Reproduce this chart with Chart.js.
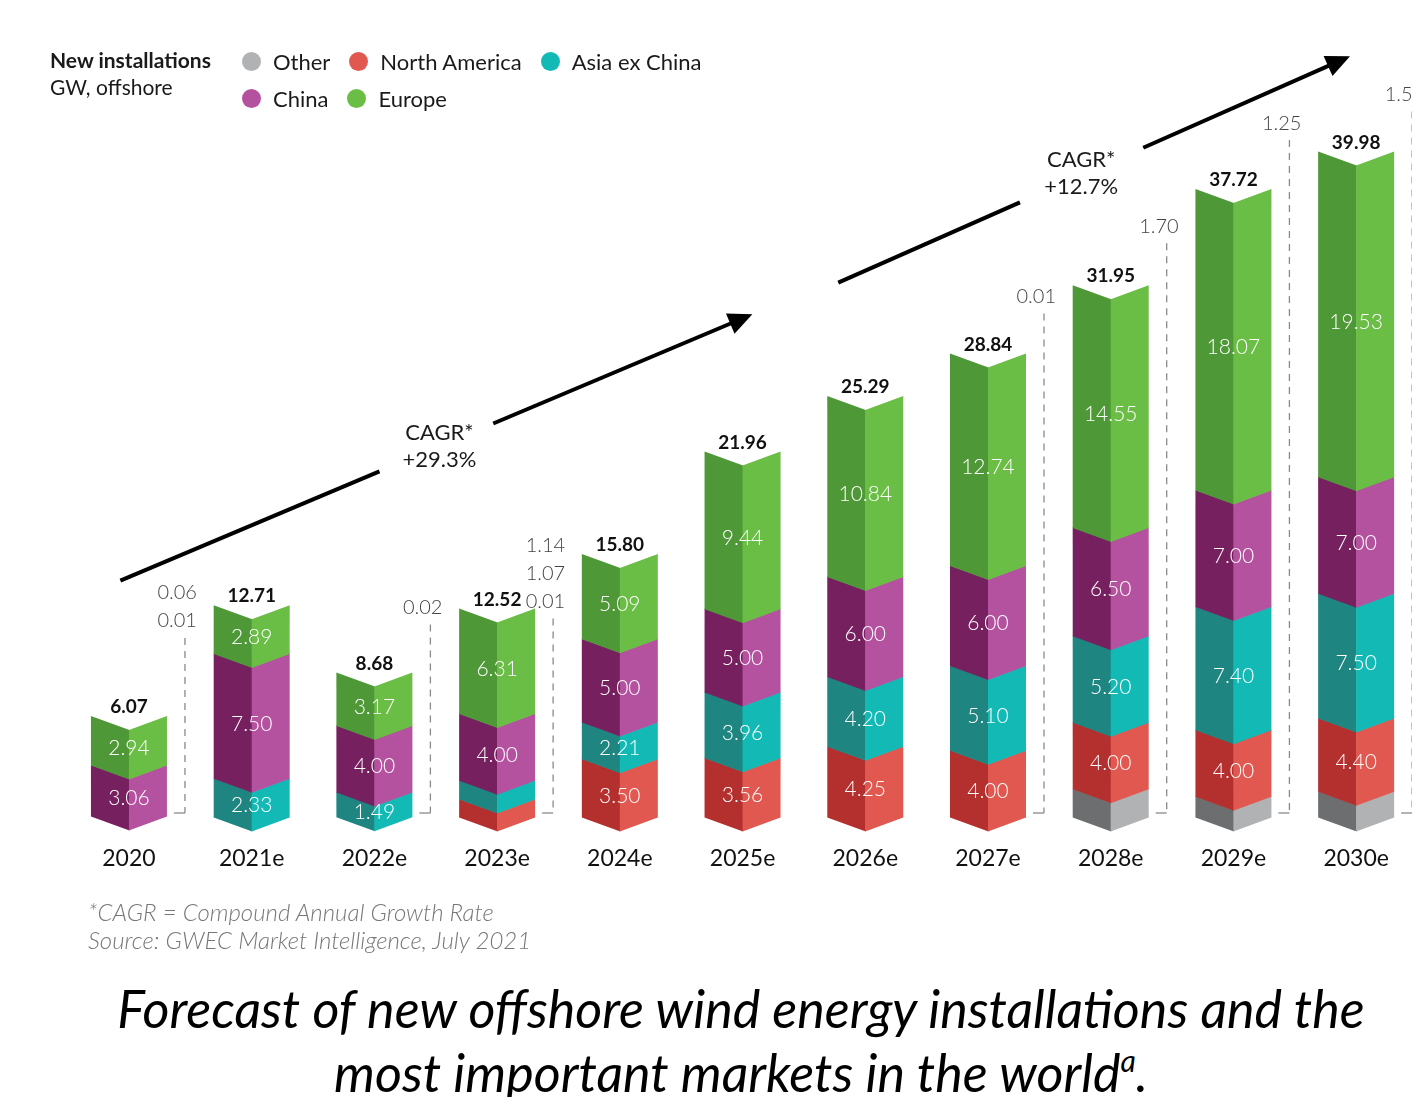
<!DOCTYPE html>
<html>
<head>
<meta charset="utf-8">
<script src="https://cdn.jsdelivr.net/npm/chart.js@4.4.0/dist/chart.umd.min.js"></script>
<style>
  html, body { margin: 0; padding: 0; background: #fff; overflow: hidden; }
  body { width: 1412px; height: 1097px; position: relative; font-family: Lato, 'Open Sans', sans-serif; }
  #wrap { position: absolute; left: 0; top: 0; width: 1420px; height: 910px; }
  #head { position: absolute; left: 50px; top: 46px; font-size: 21px; line-height: 27px; color: #1a1a1a; }
  #head b { font-weight: bold; }
  #legend { position: absolute; left: 242px; top: 43px; font-size: 22px; color: #1a1a1a; }
  .lrow { display: flex; gap: 19px; height: 37px; align-items: center; }
  .litem { display: flex; align-items: center; }
  .dot { width: 19px; height: 19px; border-radius: 50%; margin-right: 12px; }
  #notes { position: absolute; left: 88px; top: 898px; font-size: 24px; line-height: 28px; color: #777; font-style: italic; font-weight: 300; }
  #title { position: absolute; left: 0; width: 1482px; top: 976px; text-align: center; font-size: 52px; line-height: 64px; font-style: italic; color: #000; font-family: Lato, 'Noto Sans', sans-serif; }
  #title sup { font-size: 30px; vertical-align: 20px; line-height: 0; }
</style>
</head>
<body>
<div id="wrap"><canvas id="chart" width="1420" height="910"></canvas></div>
<div id="head"><b>New installations</b><br>GW, offshore</div>
<div id="legend"></div>
<div id="notes">*CAGR = Compound Annual Growth Rate<br>Source: GWEC Market Intelligence, July 2021</div>
<div id="title">Forecast of new offshore wind energy installations and the<br>most important markets in the world<sup>a</sup>.</div>
<script>
// values, GW offshore
const years = ['2020', '2021e', '2022e', '2023e', '2024e', '2025e', '2026e', '2027e', '2028e', '2029e', '2030e'];
const other        = [0,    0,    0,    0.01, 0,    0,    0,    0.01, 1.70, 1.25, 1.55];
const northAmerica = [0.01, 0,    0.02, 1.07, 3.50, 3.56, 4.25, 4.00, 4.00, 4.00, 4.40];
const asiaExChina  = [0.06, 2.33, 1.49, 1.14, 2.21, 3.96, 4.20, 5.10, 5.20, 7.40, 7.50];
const china        = [3.06, 7.50, 4.00, 4.00, 5.00, 5.00, 6.00, 6.00, 6.50, 7.00, 7.00];
const europe       = [2.94, 2.89, 3.17, 6.31, 5.09, 9.44, 10.84, 12.74, 14.55, 18.07, 19.53];
const totals       = ['6.07', '12.71', '8.68', '12.52', '15.80', '21.96', '25.29', '28.84', '31.95', '37.72', '39.98'];

const seriesNames = ['Other', 'North America', 'Asia ex China', 'China', 'Europe'];
const seriesData = [other, northAmerica, asiaExChina, china, europe];
const lightColors = ['#b1b2b4', '#e0584f', '#13bab5', '#b5529f', '#6abd45'];
const darkColors  = ['#6d6e70', '#b3302f', '#1e8580', '#762060', '#4f9837'];

// CAGR arrows, in category index / GW units
const cagrNotes = [
  { lines: ['CAGR*', '+29.3%'], from: [-0.07, 14.2], to: [5.08, 30.2], gap: [0.41, 0.59], at: [2.53, 23.1] },
  { lines: ['CAGR*', '+12.7%'], from: [5.78, 32.1], to: [9.95, 45.7], gap: [0.355, 0.596], at: [7.76, 39.5] }
];

const FONT = "Lato, 'Open Sans', sans-serif";

// legend
const legend = document.getElementById('legend');
[[0, 1, 2], [3, 4]].forEach(row => {
  const r = document.createElement('div');
  r.className = 'lrow';
  r.innerHTML = row.map(k =>
    `<div class="litem"><span class="dot" style="background:${lightColors[k]}"></span>${seriesNames[k]}</div>`
  ).join('');
  legend.appendChild(r);
});

const isCallout = (di, v) => v > 0 && (di === 0 || v < 1.2);

const bars3d = {
  id: 'bars3d',
  afterDatasetsDraw(chart, args, opts) {
    const ctx = chart.ctx;
    const d = opts.depth;
    const yScale = chart.scales.y;
    const zero = yScale.getPixelForValue(0);
    const tops = [];

    // prism faces
    chart.data.datasets.forEach((ds, di) => {
      chart.getDatasetMeta(di).data.forEach((bar, i) => {
        const p = bar.getProps(['x', 'y', 'base', 'width'], true);
        const top = Math.min(p.y, p.base), bot = Math.max(p.y, p.base);
        if (ds.data[i] <= 0) return;
        tops[i] = tops[i] === undefined ? top : Math.min(tops[i], top);
        if (bot - top < 1.5) return;
        const l = p.x - p.width / 2, r = p.x + p.width / 2, b = bot + 0.6;
        ctx.fillStyle = darkColors[di];
        ctx.beginPath();
        ctx.moveTo(l, top); ctx.lineTo(p.x + 0.5, top + d); ctx.lineTo(p.x + 0.5, b + d); ctx.lineTo(l, b);
        ctx.closePath(); ctx.fill();
        ctx.fillStyle = lightColors[di];
        ctx.beginPath();
        ctx.moveTo(p.x, top + d); ctx.lineTo(r, top); ctx.lineTo(r, b); ctx.lineTo(p.x, b + d);
        ctx.closePath(); ctx.fill();
      });
    });

    ctx.save();
    ctx.textAlign = 'center';
    ctx.textBaseline = 'middle';

    // values inside the segments
    ctx.fillStyle = '#fff';
    ctx.font = `300 21px ${FONT}`;
    chart.data.datasets.forEach((ds, di) => {
      chart.getDatasetMeta(di).data.forEach((bar, i) => {
        const v = ds.data[i];
        if (v <= 0 || isCallout(di, v)) return;
        const p = bar.getProps(['x', 'y', 'base'], true);
        ctx.fillText(v.toFixed(2), p.x, (p.y + p.base) / 2 + d / 2 + 1);
      });
    });

    // totals
    ctx.fillStyle = '#111';
    ctx.font = `bold 19px ${FONT}`;
    const meta0 = chart.getDatasetMeta(0);
    meta0.data.forEach((bar, i) => {
      ctx.fillText(totals[i], bar.x, tops[i] - 9);
    });

    // small values called out next to the bar
    ctx.font = `300 20px ${FONT}`;
    meta0.data.forEach((bar, i) => {
      const vals = [];
      chart.data.datasets.forEach((ds, di) => { if (isCallout(di, ds.data[i])) vals.push(ds.data[i]); });
      if (!vals.length) return;
      const lx = bar.x + bar.width / 2 + 18;
      const y0 = tops[i] - opts.calloutLift[i];
      ctx.fillStyle = '#444';
      ctx.textAlign = 'right';
      vals.forEach((v, k) => ctx.fillText(v.toFixed(2), lx + 12, y0 - k * 28));
      ctx.strokeStyle = '#8a8a8a';
      ctx.lineWidth = 1.3;
      ctx.setLineDash([7, 6]);
      ctx.beginPath();
      ctx.moveTo(lx, y0 + 17); ctx.lineTo(lx, zero - 4);
      ctx.stroke();
      ctx.setLineDash([]);
      ctx.beginPath();
      ctx.moveTo(lx, zero - 4); ctx.lineTo(lx - 11, zero - 4);
      ctx.stroke();
    });
    ctx.restore();
  },
  afterDraw(chart) {
    const ctx = chart.ctx;
    const xs = chart.scales.x, ys = chart.scales.y;
    const px = (pt) => [xs.getPixelForValue(pt[0]), ys.getPixelForValue(pt[1])];
    ctx.save();
    cagrNotes.forEach(n => {
      const [x1, y1] = px(n.from), [x2, y2] = px(n.to);
      const dx = x2 - x1, dy = y2 - y1;
      const len = Math.hypot(dx, dy), ux = dx / len, uy = dy / len;
      const head = 24, half = 11;
      const bx = x2 - ux * head, by = y2 - uy * head;
      ctx.strokeStyle = '#000';
      ctx.fillStyle = '#000';
      ctx.lineWidth = 4;
      ctx.beginPath();
      ctx.moveTo(x1, y1); ctx.lineTo(x1 + dx * n.gap[0], y1 + dy * n.gap[0]);
      ctx.moveTo(x1 + dx * n.gap[1], y1 + dy * n.gap[1]); ctx.lineTo(bx + ux, by + uy);
      ctx.stroke();
      ctx.beginPath();
      ctx.moveTo(x2, y2);
      ctx.lineTo(bx - uy * half, by + ux * half);
      ctx.lineTo(bx + uy * half, by - ux * half);
      ctx.closePath(); ctx.fill();
      const [tx, ty] = px(n.at);
      ctx.fillStyle = '#1a1a1a';
      ctx.font = `22px ${FONT}`;
      ctx.textAlign = 'center';
      ctx.textBaseline = 'middle';
      n.lines.forEach((t, k) => ctx.fillText(t, tx, ty + k * 27));
    });
    ctx.restore();
  }
};

new Chart(document.getElementById('chart'), {
  type: 'bar',
  data: {
    labels: years,
    datasets: seriesData.map((vals, k) => ({
      label: seriesNames[k],
      data: vals,
      backgroundColor: 'rgba(0,0,0,0)',
      borderWidth: 0,
      barThickness: 76
    }))
  },
  options: {
    responsive: false,
    animation: false,
    events: [],
    layout: { padding: { left: 67.6, right: 2.5, top: 18, bottom: 9.4 } },
    plugins: {
      legend: { display: false },
      tooltip: { enabled: false },
      bars3d: { depth: 14, calloutLift: [95, 0, 65, 7, 0, 0, 0, 57, 59, 66, 57] }
    },
    scales: {
      x: {
        stacked: true,
        grid: { display: false, drawTicks: false },
        border: { display: false },
        ticks: { color: '#111', padding: 28, font: { size: 23, family: FONT } }
      },
      y: {
        stacked: true,
        display: false,
        min: 0,
        max: 48
      }
    }
  },
  plugins: [bars3d]
});
</script>
</body>
</html>
